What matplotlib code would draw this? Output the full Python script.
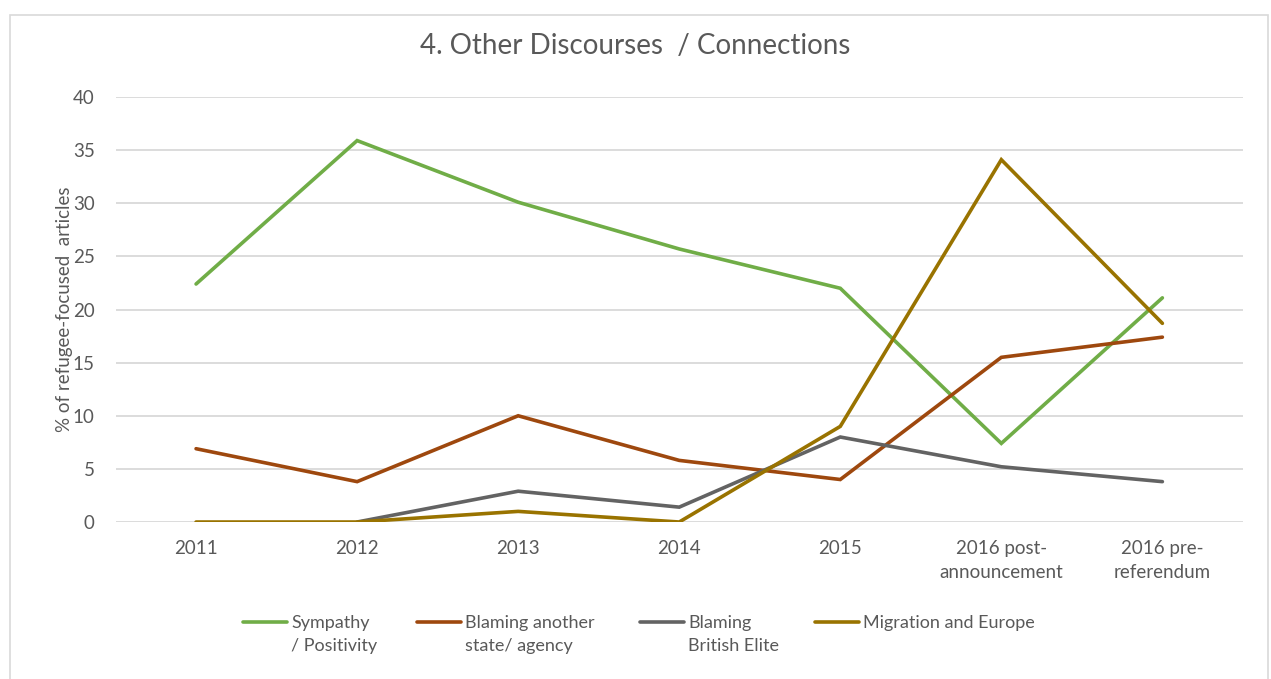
# Other discourses / connections in refugee-focused articles, line chart

import numpy as np
import matplotlib.pyplot as plt
from matplotlib.lines import Line2D
from matplotlib.patches import Rectangle

plt.rcParams['font.family'] = ['Lato', 'DejaVu Sans']

# --- data ---
periods = ['2011', '2012', '2013', '2014', '2015',
           '2016 post-\nannouncement', '2016 pre-\nreferendum']
sympathy = [22.4, 35.9, 30.1, 25.7, 22.0, 7.4, 21.1]
blaming_state = [6.9, 3.8, 10.0, 5.8, 4.0, 15.5, 17.4]
blaming_elite = [np.nan, 0.0, 2.9, 1.4, 8.0, 5.2, 3.8]
migration_europe = [0.0, 0.0, 1.0, 0.0, 9.0, 34.1, 18.7]

series_names = ['Sympathy\n/ Positivity', 'Blaming another\nstate/ agency',
                'Blaming\nBritish Elite', 'Migration and Europe']
series_colors = ['#70AD47', '#9E480E', '#636363', '#997300']

TEXT = '#595959'
GRID = '#D9D9D9'

fig = plt.figure(figsize=(12.71, 6.79), dpi=100)
ax = fig.add_axes([0.0909, 0.2312, 0.887, 0.6259])

# chart frame
fig.add_artist(Rectangle((10 / 1271, -0.01), 1258 / 1271, 1 - 15 / 679 + 0.01,
                         transform=fig.transFigure, fill=False,
                         edgecolor=GRID, linewidth=1.2))

x = np.arange(len(periods))
all_series = [sympathy, blaming_state, blaming_elite, migration_europe]
for vals, col in zip(all_series, series_colors):
    ax.plot(x, vals, color=col, linewidth=2.6, solid_joinstyle='miter',
            solid_capstyle='round', zorder=3)

ax.set_xlim(-0.5, len(periods) - 0.5)
ax.set_ylim(0, 40)
ax.set_yticks(range(0, 41, 5))
ax.set_xticks(x)
ax.set_xticklabels(periods, linespacing=1.5)
ax.tick_params(axis='both', length=0, labelsize=13.5, colors=TEXT)
ax.tick_params(axis='x', pad=13)
ax.tick_params(axis='y', pad=15)
ax.grid(axis='y', color=GRID, linewidth=1.3, zorder=0)
for s in ax.spines.values():
    s.set_visible(False)

ax.set_ylabel('% of refugee-focused  articles', fontsize=13.5, color=TEXT, labelpad=0)
fig.text(0.5, 1 - 46 / 679, '4. Other Discourses  / Connections',
         ha='center', va='center', fontsize=20, color=TEXT)

# legend, drawn below the axis with handles on the first text line
leg_line_x = [243, 417, 640, 815]
leg_y = 1 - 622 / 679
for lx, name, col in zip(leg_line_x, series_names, series_colors):
    fig.add_artist(Line2D([lx / 1271, (lx + 44) / 1271], [leg_y, leg_y],
                          transform=fig.transFigure, color=col,
                          linewidth=2.6, solid_capstyle='round'))
    fig.text((lx + 48) / 1271, leg_y + 0.011, name, ha='left', va='top',
             fontsize=13, color=TEXT, linespacing=1.6)

fig.savefig('out.png', dpi=100)
